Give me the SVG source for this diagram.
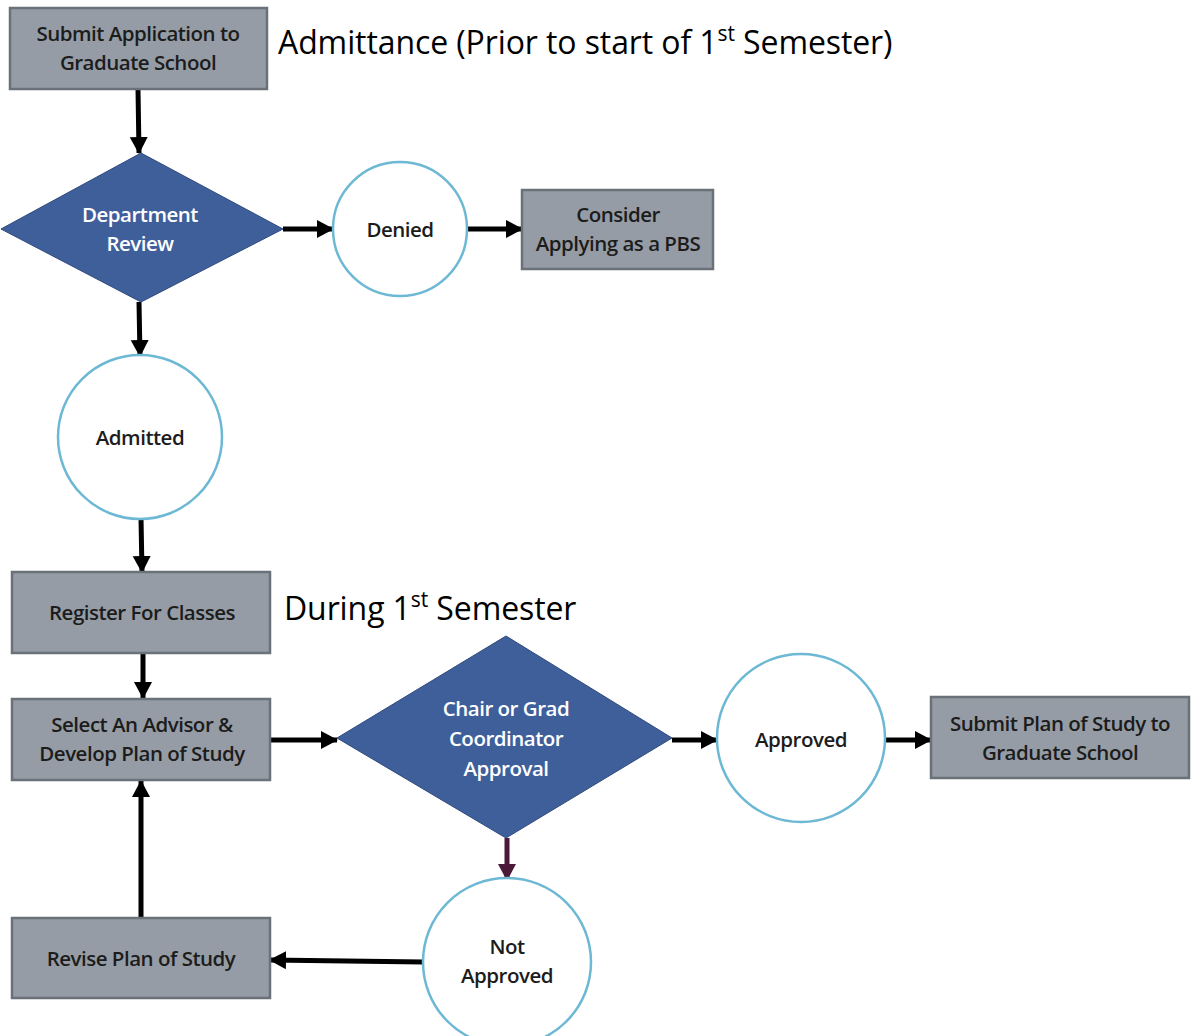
<svg xmlns="http://www.w3.org/2000/svg" width="1193" height="1036" viewBox="0 0 1193 1036">
<defs>
<marker id="ah" markerUnits="userSpaceOnUse" markerWidth="18" markerHeight="20" refX="16" refY="10" orient="auto">
<path d="M0,1 L17,10 L0,19 Z" fill="#000"/>
</marker>
<marker id="ahm" markerUnits="userSpaceOnUse" markerWidth="18" markerHeight="20" refX="16" refY="10" orient="auto">
<path d="M0,1 L17,10 L0,19 Z" fill="#4a1a38"/>
</marker>
<style>
.box{fill:#959ca5;stroke:#6b7178;stroke-width:2.5}
.dia{fill:#3f5f9b;stroke:#2f4a7e;stroke-width:1}
.cir{fill:#fff;stroke:#6db8d4;stroke-width:2.5}
.t{font-family:"Open Sans","Liberation Sans",sans-serif;font-size:20.5px;font-weight:600;fill:#1c1c1c;text-anchor:middle;letter-spacing:-0.5px}
.tw{fill:#fff}
.hd{font-family:"Open Sans","Liberation Sans",sans-serif;font-size:32px;fill:#000;letter-spacing:-0.1px}
.c{stroke:#000;stroke-width:5;fill:none;marker-end:url(#ah)}
</style>
</defs>
<rect width="1193" height="1036" fill="#fff"/>
<text class="hd" x="278" y="54">Admittance (Prior to start of 1<tspan font-size="21" dy="-13">st</tspan><tspan dy="13"> Semester)</tspan></text>
<text class="hd" x="284" y="620">During 1<tspan font-size="21" dy="-13">st</tspan><tspan dy="13"> Semester</tspan></text>
<g id="connectors">
<line class="c" x1="138" y1="89" x2="139" y2="153"/>
<line class="c" x1="283" y1="229" x2="333" y2="229"/>
<line class="c" x1="467" y1="229" x2="522" y2="229"/>
<line class="c" x1="139" y1="302" x2="140" y2="356"/>
<line class="c" x1="141" y1="518" x2="142" y2="572"/>
<line class="c" x1="143" y1="653" x2="143" y2="698"/>
<line class="c" x1="270" y1="740" x2="337" y2="740"/>
<line class="c" x1="672" y1="740" x2="717" y2="740"/>
<line class="c" x1="886" y1="740" x2="931" y2="740"/>
<line x1="507" y1="838" x2="507" y2="880" stroke="#4a1a38" stroke-width="5" marker-end="url(#ahm)"/>
<line class="c" x1="423" y1="962" x2="270" y2="960"/>
<line class="c" x1="141" y1="918" x2="141" y2="781"/>
</g>
<g id="submit-app"><rect class="box" x="10" y="8" width="257" height="81"/><text class="t" x="138" y="41">Submit Application to</text><text class="t" x="138" y="70">Graduate School</text></g>
<g id="dept-review"><polygon class="dia" points="141,153 283,229 141,302 1,229"/><text class="t tw" x="140" y="222">Department</text><text class="t tw" x="140" y="251">Review</text></g>
<g id="denied"><circle class="cir" cx="400" cy="229" r="67"/><text class="t" x="400" y="237">Denied</text></g>
<g id="consider"><rect class="box" x="522" y="190" width="191" height="79"/><text class="t" x="618" y="222">Consider</text><text class="t" x="618" y="251">Applying as a PBS</text></g>
<g id="admitted"><circle class="cir" cx="140" cy="437" r="82"/><text class="t" x="140" y="445">Admitted</text></g>
<g id="register"><rect class="box" x="12" y="572" width="258" height="81"/><text class="t" x="142" y="620">Register For Classes</text></g>
<g id="select-advisor"><rect class="box" x="12" y="699" width="258" height="81"/><text class="t" x="142" y="732">Select An Advisor &amp;</text><text class="t" x="142" y="761">Develop Plan of Study</text></g>
<g id="chair-approval"><polygon class="dia" points="506,636 672,738 506,838 337,738"/><text class="t tw" x="506" y="716">Chair or Grad</text><text class="t tw" x="506" y="746">Coordinator</text><text class="t tw" x="506" y="776">Approval</text></g>
<g id="approved"><circle class="cir" cx="801" cy="738" r="84"/><text class="t" x="801" y="747">Approved</text></g>
<g id="submit-plan"><rect class="box" x="931" y="697" width="258" height="81"/><text class="t" x="1060" y="731">Submit Plan of Study to</text><text class="t" x="1060" y="760">Graduate School</text></g>
<g id="not-approved"><circle class="cir" cx="507" cy="962" r="84"/><text class="t" x="507" y="954">Not</text><text class="t" x="507" y="983">Approved</text></g>
<g id="revise"><rect class="box" x="12" y="918" width="258" height="80"/><text class="t" x="141" y="966">Revise Plan of Study</text></g>
</svg>
